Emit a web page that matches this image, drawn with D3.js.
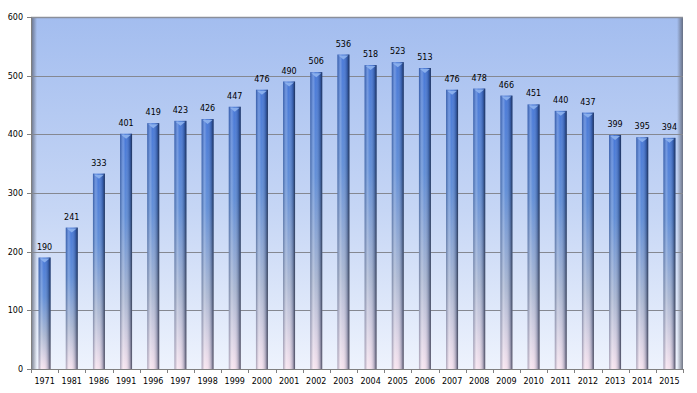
<!DOCTYPE html>
<html>
<head>
<meta charset="utf-8">
<script src="https://cdn.jsdelivr.net/npm/d3@7"></script>
<style>
  html, body { margin: 0; padding: 0; background: #fff; }
  svg { display: block; font-family: "DejaVu Sans", Verdana, sans-serif; }
</style>
</head>
<body>
<div id="chart"></div>
<script>
// Données
const years = ["1971","1981","1986","1991","1996","1997","1998","1999","2000","2001","2002","2003",
               "2004","2005","2006","2007","2008","2009","2010","2011","2012","2013","2014","2015"];
const values = [190,241,333,401,419,423,426,447,476,490,506,536,518,523,513,476,478,466,451,440,437,399,395,394];
const yTicks = [0,100,200,300,400,500,600];

const W = 697, H = 393;
const margin = { top: 17, right: 14, bottom: 24, left: 31 };
const width = W - margin.left - margin.right;
const height = H - margin.top - margin.bottom;

const svg = d3.select("#chart").append("svg")
    .attr("width", W).attr("height", H);

const defs = svg.append("defs");

// fond du graphique
const bg = defs.append("linearGradient").attr("id", "bg")
    .attr("x1", 0).attr("y1", 0).attr("x2", 0).attr("y2", 1);
bg.append("stop").attr("offset", "0%").attr("stop-color", "#a3bdef");
bg.append("stop").attr("offset", "55%").attr("stop-color", "#c6d6f5");
bg.append("stop").attr("offset", "100%").attr("stop-color", "#eef3fd");

// ombres gauche / droite
const shL = defs.append("linearGradient").attr("id", "shL")
    .attr("x1", 0).attr("y1", 0).attr("x2", 1).attr("y2", 0);
shL.append("stop").attr("offset", "0%").attr("stop-color", "#5a6070").attr("stop-opacity", 0.85);
shL.append("stop").attr("offset", "100%").attr("stop-color", "#5a6070").attr("stop-opacity", 0);
const shR = defs.append("linearGradient").attr("id", "shR")
    .attr("x1", 1).attr("y1", 0).attr("x2", 0).attr("y2", 0);
shR.append("stop").attr("offset", "0%").attr("stop-color", "#5a6070").attr("stop-opacity", 0.85);
shR.append("stop").attr("offset", "100%").attr("stop-color", "#5a6070").attr("stop-opacity", 0);

// barres : dégradé vertical
const barV = defs.append("linearGradient").attr("id", "barV")
    .attr("x1", 0).attr("y1", 0).attr("x2", 0).attr("y2", 1);
barV.append("stop").attr("offset", "0%").attr("stop-color", "#3f72d6");
barV.append("stop").attr("offset", "35%").attr("stop-color", "#5b8ad6");
barV.append("stop").attr("offset", "70%").attr("stop-color", "#a9b6d2");
barV.append("stop").attr("offset", "100%").attr("stop-color", "#f6e2ee");

// barres : reflet horizontal
const barH = defs.append("linearGradient").attr("id", "barH")
    .attr("x1", 0).attr("y1", 0).attr("x2", 1).attr("y2", 0);
barH.append("stop").attr("offset", "0%").attr("stop-color", "#1a2a50").attr("stop-opacity", 0.35);
barH.append("stop").attr("offset", "25%").attr("stop-color", "#ffffff").attr("stop-opacity", 0.25);
barH.append("stop").attr("offset", "45%").attr("stop-color", "#ffffff").attr("stop-opacity", 0.05);
barH.append("stop").attr("offset", "80%").attr("stop-color", "#1a2a50").attr("stop-opacity", 0.3);
barH.append("stop").attr("offset", "100%").attr("stop-color", "#10182e").attr("stop-opacity", 0.75);

const g = svg.append("g").attr("transform", `translate(${margin.left},${margin.top})`);

// Échelles
const x = d3.scaleBand().domain(years).range([0, width]).paddingInner(0.56).paddingOuter(0.28);
const xb = d3.scaleBand().domain(years).range([0, width]);
const y = d3.scaleLinear().domain([0, 600]).range([height, 0]);

// Zone de tracé
g.append("rect").attr("width", width).attr("height", height).attr("fill", "url(#bg)");
g.append("rect").attr("width", 6).attr("height", height).attr("fill", "url(#shL)");
g.append("rect").attr("x", width - 6).attr("width", 6).attr("height", height).attr("fill", "url(#shR)");
g.append("line").attr("x1", 0).attr("x2", width).attr("y1", 0.5).attr("y2", 0.5)
    .attr("stroke", "#8a8f9a").attr("stroke-width", 1.5);

// Grille
g.selectAll(".grid").data(yTicks.filter(d => d > 0 && d < 600)).enter()
  .append("line")
    .attr("x1", 0).attr("x2", width)
    .attr("y1", d => Math.round(y(d)) + 0.5).attr("y2", d => Math.round(y(d)) + 0.5)
    .attr("stroke", "#858891").attr("stroke-width", 1);

// Barres
const bars = g.selectAll(".bar").data(values).enter().append("g");
bars.append("rect")
    .attr("x", (d, i) => x(years[i]))
    .attr("y", d => y(d))
    .attr("width", x.bandwidth())
    .attr("height", d => height - y(d))
    .attr("fill", "url(#barV)");
bars.append("rect")
    .attr("x", (d, i) => x(years[i]))
    .attr("y", d => y(d))
    .attr("width", x.bandwidth())
    .attr("height", d => height - y(d))
    .attr("fill", "url(#barH)");
// chapeau du cylindre
bars.append("path")
    .attr("d", (d, i) => {
        const x0 = x(years[i]), w = x.bandwidth(), t = y(d);
        return `M${x0 + 1},${t + 1} L${x0 + w - 1},${t + 1} L${x0 + w / 2},${t + 5} Z`;
    })
    .attr("fill", "#8fb4ee").attr("opacity", 0.9);

// Étiquettes de valeurs
g.selectAll(".lbl").data(values).enter().append("text")
    .attr("x", (d, i) => x(years[i]) + x.bandwidth() / 2)
    .attr("y", d => y(d) - 8)
    .attr("text-anchor", "middle")
    .style("font-size", "8px")
    .attr("fill", "#000")
    .text(d => d);

// Axe Y
g.append("line").attr("x1", 0.5).attr("x2", 0.5).attr("y1", 0).attr("y2", height)
    .attr("stroke", "#808080");
const yAxis = g.append("g").attr("class", "yaxis");
yAxis.selectAll("line").data(yTicks).enter().append("line")
    .attr("x1", -4).attr("x2", 0)
    .attr("y1", d => Math.round(y(d)) + 0.5).attr("y2", d => Math.round(y(d)) + 0.5)
    .attr("stroke", "#808080");
yAxis.selectAll("text").data(yTicks).enter().append("text")
    .attr("x", -8).attr("y", d => y(d) + 3)
    .attr("text-anchor", "end")
    .style("font-size", "8px")
    .text(d => d);

// Axe X
g.append("line").attr("x1", 0).attr("x2", width)
    .attr("y1", height + 0.5).attr("y2", height + 0.5).attr("stroke", "#808080");
const xTicks = years.map(d => xb(d)).concat([width]);
g.selectAll(".xt").data(xTicks).enter().append("line")
    .attr("x1", d => Math.round(d) + 0.5).attr("x2", d => Math.round(d) + 0.5)
    .attr("y1", height).attr("y2", height + 4)
    .attr("stroke", "#808080");
g.selectAll(".xl").data(years).enter().append("text")
    .attr("x", d => xb(d) + xb.bandwidth() / 2)
    .attr("y", height + 15)
    .attr("text-anchor", "middle")
    .style("font-size", "8px")
    .text(d => d);
</script>
</body>
</html>
